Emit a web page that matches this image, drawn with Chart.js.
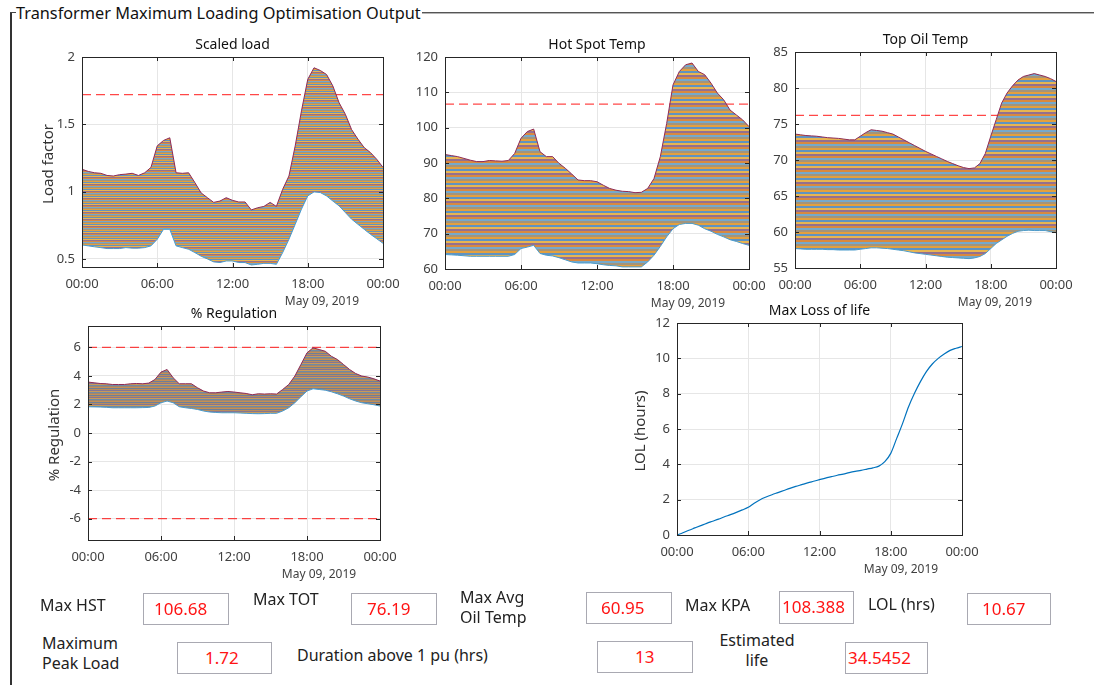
<!DOCTYPE html>
<html>
<head>
<meta charset="utf-8">
<title>Transformer Maximum Loading Optimisation Output</title>
<script src="https://cdn.jsdelivr.net/npm/chart.js@4.4.1/dist/chart.umd.min.js"></script>
<style>
  html, body { margin: 0; padding: 0; background: #fff; }
  body { width: 1094px; height: 685px; position: relative; overflow: hidden;
         font-family: "Noto Sans", "Open Sans", sans-serif; color: #1a1a1a; }
  canvas { position: absolute; }
  .frame-left { position: absolute; left: 10px; top: 12px; width: 2px; height: 700px; background: #333; }
  .frame-tick { position: absolute; left: 10px; top: 12px; width: 6px; height: 1px; background: #444; }
  .frame-top { position: absolute; left: 422px; top: 12px; right: 0; height: 1px; background: #555;
               border-bottom: 1px solid #b5b5b5; }
  .panel-title { position: absolute; left: 16px; top: 2px; font-size: 16.3px; line-height: 22px; color: #111; }
  .lbl { position: absolute; font-size: 16px; line-height: 20px; color: #222; white-space: nowrap; }
  .box { position: absolute; border: 1px solid #a9a9b2; box-sizing: border-box; background: #fff;
         color: #ff1414; font-size: 17px; line-height: 29px; white-space: nowrap; }
</style>
</head>
<body>
<div class="frame-left"></div>
<div class="frame-tick"></div>
<div class="frame-top"></div>
<div class="panel-title">Transformer Maximum Loading Optimisation Output</div>

<canvas id="cLoad"></canvas>
<canvas id="cHst"></canvas>
<canvas id="cTot"></canvas>
<canvas id="cReg"></canvas>
<canvas id="cLol"></canvas>

<div class="lbl" style="left:40px;top:595px">Max HST</div>
<div class="box" style="left:143px;top:593px;width:86px;height:32px;padding-left:10px">106.68</div>
<div class="lbl" style="left:253px;top:589px">Max TOT</div>
<div class="box" style="left:351px;top:593px;width:86px;height:32px;padding-left:15px">76.19</div>
<div class="lbl" style="left:460px;top:587px">Max Avg<br>Oil Temp</div>
<div class="box" style="left:586px;top:592px;width:86px;height:32px;padding-left:14px">60.95</div>
<div class="lbl" style="left:685px;top:595px">Max KPA</div>
<div class="box" style="left:779px;top:591px;width:75px;height:33px;padding-left:2px">108.388</div>
<div class="lbl" style="left:868px;top:594px">LOL (hrs)</div>
<div class="box" style="left:967px;top:593px;width:84px;height:32px;padding-left:14px">10.67</div>

<div class="lbl" style="left:42px;top:633px">Maximum<br>Peak Load</div>
<div class="box" style="left:177px;top:642px;width:95px;height:32px;padding-left:27px">1.72</div>
<div class="lbl" style="left:297px;top:645px">Duration above 1 pu (hrs)</div>
<div class="box" style="left:597px;top:641px;width:96px;height:32px;padding-left:37px">13</div>
<div class="lbl" style="left:757px;top:630px;transform:translateX(-50%);text-align:center">Estimated<br>life</div>
<div class="box" style="left:845px;top:642px;width:83px;height:32px;padding-left:2px">34.5452</div>

<script>
// ---- time base (hours of 09 May 2019, half-hour steps) ----
const HOURS = [0,0.5,1,1.5,2,2.5,3,3.5,4,4.5,5,5.5,6,6.5,7,7.5,8,8.5,9,9.5,10,10.5,11,11.5,
               12,12.5,13,13.5,14,14.5,15,15.5,16,16.5,17,17.5,18,18.5,19,19.5,20,20.5,21,21.5,
               22,22.5,23,23.5,24];
const X_TICKS = [0, 6, 12, 18, 24];
const X_TICK_LABELS = ['00:00', '06:00', '12:00', '18:00', '00:00'];
const DATE_LABEL = 'May 09, 2019';

// ---- scaled load (p.u.), envelope of the loading family ----
const LOAD_UPPER = [1.166,1.15,1.14,1.136,1.12,1.116,1.126,1.13,1.136,1.12,1.14,1.18,1.34,1.38,1.40,1.14,
                    1.136,1.14,1.067,0.99,0.955,0.92,0.93,0.955,0.935,0.923,0.923,0.864,0.88,0.89,0.92,0.89,
                    1.017,1.116,1.34,1.6,1.834,1.92,1.90,1.87,1.785,1.66,1.574,1.46,1.39,1.327,1.29,1.24,1.18];
const LOAD_LOWER = [0.604,0.597,0.59,0.584,0.577,0.577,0.577,0.584,0.58,0.58,0.584,0.597,0.646,0.72,0.72,0.597,
                    0.584,0.572,0.547,0.52,0.5,0.478,0.473,0.485,0.485,0.473,0.473,0.455,0.46,0.467,0.467,0.46,
                    0.547,0.646,0.757,0.87,0.968,0.998,0.993,0.968,0.93,0.894,0.844,0.795,0.757,0.72,0.683,0.65,0.616];
const LOAD_LIMIT = 1.72;
const LOAD_Y_TICKS = [0.5, 1, 1.5, 2];

// ---- hot spot temperature (degC) ----
const HST_UPPER = [92.4,92.1,91.8,91.3,90.8,90.4,90.4,90.7,90.6,90.5,90.7,92.7,97.0,98.9,99.6,93.2,
                   91.8,91.8,89.9,88.5,86.9,85.2,85.0,85.0,84.7,83.7,82.8,82.3,82.0,81.9,81.6,81.7,
                   82.8,85.6,91.8,101.2,112.1,115.9,117.8,118.3,115.9,115.0,112.6,109.8,107.9,105.0,103.6,102.2,100.3];
const HST_LOWER = [64.1,64.0,63.9,63.75,63.6,63.6,63.6,63.6,63.6,63.6,63.6,64.1,65.8,66.2,66.7,64.4,
                   63.9,63.7,63.2,62.6,62.0,61.7,61.7,61.7,61.5,61.2,61.0,60.9,60.6,60.6,60.6,60.6,
                   62.0,63.9,66.4,69.1,71.4,72.6,72.9,72.9,72.4,71.4,70.7,69.8,69.1,68.3,67.8,67.2,66.7];
const HST_LIMIT = 106.68;
const HST_Y_TICKS = [60, 70, 80, 90, 100, 110, 120];

// ---- top oil temperature (degC) ----
const TOT_UPPER = [73.6,73.5,73.4,73.35,73.3,73.2,73.1,73.05,73.0,72.9,72.8,72.8,73.3,73.8,74.2,74.1,
                   74.0,73.8,73.6,73.2,72.8,72.4,72.0,71.6,71.2,70.85,70.5,70.15,69.8,69.5,69.2,68.95,
                   68.8,68.9,69.5,70.9,73.3,75.6,77.9,79.3,80.3,81.1,81.6,81.8,82.0,81.8,81.6,81.3,80.9];
const TOT_LOWER = [57.7,57.65,57.6,57.6,57.6,57.6,57.55,57.55,57.5,57.5,57.5,57.5,57.6,57.7,57.8,57.8,
                   57.75,57.7,57.6,57.5,57.4,57.25,57.1,57.0,56.9,56.8,56.7,56.6,56.5,56.45,56.4,56.35,
                   56.3,56.4,56.6,57.0,57.7,58.4,58.9,59.4,59.8,60.1,60.2,60.25,60.2,60.2,60.2,60.05,59.9];
const TOT_LIMIT = 76.19;
const TOT_Y_TICKS = [55, 60, 65, 70, 75, 80, 85];

// ---- voltage regulation (%) ----
const REG_UPPER = [3.57,3.52,3.47,3.45,3.4,3.4,3.4,3.45,3.47,3.45,3.5,3.75,4.27,4.45,3.87,3.45,
                   3.45,3.45,3.17,2.94,2.82,2.82,2.87,2.91,2.87,2.82,2.77,2.68,2.75,2.73,2.75,2.73,
                   3.05,3.4,3.99,4.8,5.62,5.97,5.85,5.73,5.38,5.15,4.8,4.45,4.17,3.99,3.92,3.8,3.64];
const REG_LOWER = [1.84,1.83,1.82,1.8,1.77,1.77,1.77,1.77,1.77,1.78,1.79,1.89,2.12,2.24,2.12,1.84,
                   1.77,1.72,1.65,1.54,1.47,1.44,1.42,1.42,1.42,1.4,1.38,1.36,1.35,1.36,1.38,1.38,
                   1.54,1.77,2.12,2.54,2.94,3.1,3.05,3.0,2.89,2.75,2.59,2.4,2.24,2.12,2.05,1.98,1.89];
const REG_LIMITS = [6, -6];
const REG_Y_TICKS = [-6, -4, -2, 0, 2, 4, 6];

// ---- cumulative loss of life (hours) ----
const LOL = [0,0.13,0.27,0.4,0.53,0.66,0.78,0.9,1.03,1.15,1.28,1.42,1.57,1.8,2.0,2.15,
             2.28,2.4,2.52,2.64,2.75,2.85,2.95,3.04,3.13,3.22,3.3,3.38,3.45,3.53,3.6,3.66,
             3.73,3.8,3.9,4.15,4.62,5.47,6.32,7.26,8.02,8.68,9.25,9.68,10.0,10.25,10.45,10.57,10.67];
const LOL_Y_TICKS = [0, 2, 4, 6, 8, 10, 12];

// stripe shades of the overlaid loading family (MATLAB colour order, as it blends on screen)
const STRIPES_WIDE = ['#e3a03e', '#5f93c2', '#e8b551', '#94708f', '#d9893f', '#76a9cb', '#a4947a'];
const STRIPES_FINE = ['#c48f55', '#6d7f98', '#b98c5c', '#857593', '#c99a58', '#6f8aa5', '#a0876e'];

const FONT = '"Noto Sans", "Open Sans", sans-serif';
const TICK_COLOR = '#404040';
const GRID_COLOR = '#e6e6e6';
const AXIS_COLOR = '#262626';

function stripes(ctx, colors, rowH) {
  const c = document.createElement('canvas');
  c.width = 4; c.height = colors.length * rowH;
  const g = c.getContext('2d');
  colors.forEach((col, i) => { g.fillStyle = col; g.fillRect(0, i * rowH, 4, rowH); });
  return ctx.createPattern(c, 'repeat');
}

const pts = (ys) => HOURS.map((h, i) => ({ x: h, y: ys[i] }));

function band(ctx, lower, upper, colors, rowH) {
  return [
    { data: pts(lower), borderColor: '#4a9bcc', borderWidth: 1, pointRadius: 0, fill: false },
    { data: pts(upper), borderColor: '#8e2a55', borderWidth: 1, pointRadius: 0,
      fill: '-1', backgroundColor: stripes(ctx, colors, rowH) },
  ];
}

function limit(v) {
  return { data: [{ x: 0, y: v }, { x: 24, y: v }], borderColor: 'rgba(255,0,0,0.72)',
           borderDash: [9, 5], borderWidth: 1.2, pointRadius: 0, fill: false };
}

// axes box with inward ticks, title, y label and the date under the time axis
const matlabAxes = {
  id: 'matlabAxes',
  afterDraw(chart, args, opts) {
    const { ctx, chartArea: a, scales } = chart;
    ctx.save();
    ctx.strokeStyle = AXIS_COLOR;
    ctx.lineWidth = 1;
    ctx.beginPath();
    scales.x.ticks.forEach(t => {
      const px = Math.round(scales.x.getPixelForValue(t.value)) + 0.5;
      ctx.moveTo(px, a.bottom); ctx.lineTo(px, a.bottom - 4);
      ctx.moveTo(px, a.top); ctx.lineTo(px, a.top + 4);
    });
    scales.y.ticks.forEach(t => {
      const py = Math.round(scales.y.getPixelForValue(t.value)) + 0.5;
      ctx.moveTo(a.left, py); ctx.lineTo(a.left + 4, py);
      ctx.moveTo(a.right, py); ctx.lineTo(a.right - 4, py);
    });
    ctx.stroke();
    ctx.strokeRect(Math.round(a.left) + 0.5, Math.round(a.top) + 0.5,
                   Math.round(a.width), Math.round(a.height));

    ctx.textAlign = 'center';
    ctx.textBaseline = 'middle';
    ctx.fillStyle = '#111';
    ctx.font = `14px ${FONT}`;
    ctx.fillText(opts.title, (a.left + a.right) / 2, a.top - 12);

    ctx.fillStyle = TICK_COLOR;
    ctx.font = `12px ${FONT}`;
    ctx.fillText(DATE_LABEL, a.right - 61, a.bottom + 35);

    if (opts.ylabel) {
      ctx.save();
      ctx.translate(a.left - opts.ylabelGap, (a.top + a.bottom) / 2 + 2);
      ctx.rotate(-Math.PI / 2);
      ctx.font = `15px ${FONT}`;
      ctx.fillStyle = '#333';
      ctx.fillText(opts.ylabel, 0, 0);
      ctx.restore();
    }
    ctx.restore();
  }
};

const PAD_L = 75, PAD_T = 30, PAD_R = 40, PAD_B = 50;

function makeChart(id, area, yMin, yMax, yTicks, datasets, text) {
  const el = document.getElementById(id);
  const [L, T, R, B] = area;
  el.width = R - L + PAD_L + PAD_R;
  el.height = B - T + PAD_T + PAD_B;
  el.style.left = (L - PAD_L) + 'px';
  el.style.top = (T - PAD_T) + 'px';
  const ctx = el.getContext('2d');
  const tickFont = { family: FONT, size: 13 };

  return new Chart(ctx, {
    type: 'line',
    data: { datasets: datasets(ctx) },
    options: {
      animation: false,
      responsive: false,
      events: [],
      layout: { padding: { left: 0, top: PAD_T, right: PAD_R, bottom: 0 } },
      plugins: {
        legend: { display: false },
        tooltip: { enabled: false },
        matlabAxes: text,
      },
      scales: {
        x: {
          type: 'linear', min: 0, max: 24,
          afterBuildTicks: s => { s.ticks = X_TICKS.map(v => ({ value: v })); },
          afterFit: s => { s.height = PAD_B; },
          grid: { color: GRID_COLOR, drawTicks: false },
          border: { display: false },
          ticks: { padding: 9, font: tickFont, color: TICK_COLOR, maxRotation: 0, autoSkip: false,
                   callback: (v, i) => X_TICK_LABELS[i] },
        },
        y: {
          type: 'linear', min: yMin, max: yMax,
          afterBuildTicks: s => { s.ticks = yTicks.map(v => ({ value: v })); },
          afterFit: s => { s.width = PAD_L; },
          grid: { color: GRID_COLOR, drawTicks: false },
          border: { display: false },
          ticks: { padding: 7, font: tickFont, color: TICK_COLOR, callback: v => String(v) },
        },
      },
    },
    plugins: [matlabAxes],
  });
}

makeChart('cLoad', [82, 57, 383, 267], 0.44, 2, LOAD_Y_TICKS,
  ctx => [...band(ctx, LOAD_LOWER, LOAD_UPPER, STRIPES_WIDE, 1), limit(LOAD_LIMIT)],
  { title: 'Scaled load', ylabel: 'Load factor', ylabelGap: 33 });

makeChart('cHst', [445, 57, 749, 269], 60, 120, HST_Y_TICKS,
  ctx => [...band(ctx, HST_LOWER, HST_UPPER, STRIPES_WIDE, 2), limit(HST_LIMIT)],
  { title: 'Hot Spot Temp' });

makeChart('cTot', [795, 52, 1056, 268], 55, 85, TOT_Y_TICKS,
  ctx => [...band(ctx, TOT_LOWER, TOT_UPPER, STRIPES_WIDE, 2), limit(TOT_LIMIT)],
  { title: 'Top Oil Temp' });

makeChart('cReg', [88, 326, 380, 540], -7.5, 7.5, REG_Y_TICKS,
  ctx => [...band(ctx, REG_LOWER, REG_UPPER, STRIPES_FINE, 1), ...REG_LIMITS.map(limit)],
  { title: '% Regulation', ylabel: '% Regulation', ylabelGap: 33 });

makeChart('cLol', [677, 323, 962, 535], 0, 12, LOL_Y_TICKS,
  () => [{ data: pts(LOL), borderColor: '#0072BD', borderWidth: 1.2, pointRadius: 0,
           fill: false, cubicInterpolationMode: 'monotone' }],
  { title: 'Max Loss of life', ylabel: 'LOL (hours)', ylabelGap: 36 });
</script>
</body>
</html>
